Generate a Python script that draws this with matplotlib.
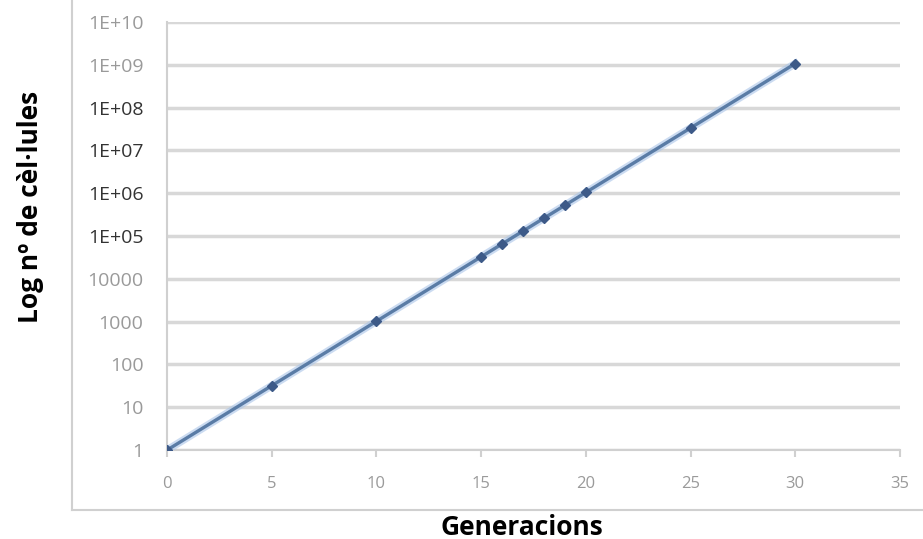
import matplotlib.pyplot as plt
from matplotlib.lines import Line2D
from matplotlib.ticker import FixedLocator, NullLocator

# generacions i nombre de cèl·lules
generacions = [0, 5, 10, 15, 16, 17, 18, 19, 20, 25, 30]
cellules = [1, 32, 1024, 32768, 65536, 131072, 262144, 524288,
            1048576, 33554432, 1073741824]

y_ticks = [1, 10, 100, 1000, 10000, 1e5, 1e6, 1e7, 1e8, 1e9, 1e10]
y_labels = ["1", "10", "100", "1000", "10000", "1E+05", "1E+06",
            "1E+07", "1E+08", "1E+09", "1E+10"]
x_ticks = [0, 5, 10, 15, 20, 25, 30, 35]

plt.rcParams['font.family'] = ['Open Sans', 'DejaVu Sans']

fig = plt.figure(figsize=(9.23, 5.39), dpi=100)
ax = fig.add_axes([0.181, 0.165, 0.794, 0.794])

ax.set_yscale('log')
ax.set_xlim(0, 35)
ax.set_ylim(1, 1e10)

ax.plot(generacions, cellules, color="#a9c4e8", lw=5.5, alpha=0.6, zorder=3)
ax.plot(generacions, cellules, color="#5a7ca6", lw=2.4, marker="D",
        ms=5, mfc="#3d5a88", mec="#3d5a88", zorder=4)

ax.yaxis.set_major_locator(FixedLocator(y_ticks))
ax.yaxis.set_minor_locator(NullLocator())
ax.set_yticks(y_ticks)
ax.set_yticklabels(y_labels)
ax.set_xticks(x_ticks)

ax.grid(axis='y', color="#d8d8d8", lw=2.5)
ax.set_axisbelow(True)

for s in ['top', 'right']:
    ax.spines[s].set_visible(False)
ax.spines['left'].set_color("#d0d0d0")
ax.spines['bottom'].set_color("#d0d0d0")
ax.spines['left'].set_linewidth(1.5)
ax.spines['bottom'].set_linewidth(1.5)

ax.tick_params(axis='y', length=0, pad=17, labelsize=14)
ax.tick_params(axis='x', length=5, color="#d0d0d0", width=1.5, pad=14,
               labelsize=12, labelcolor="#9a9a9a")

dark = {"1E+05", "1E+06", "1E+07", "1E+08"}
for lab in ax.get_yticklabels():
    lab.set_color("#333333" if lab.get_text() in dark else "#9a9a9a")

ax.set_xlabel("Generacions", fontsize=19, fontweight="bold")
ax.xaxis.set_label_coords(0.484, -0.18)
ax.xaxis.label.set_va("center")
ax.set_ylabel("Log nº de cèl·lules", fontsize=19, fontweight="bold")
ax.yaxis.set_label_coords(-0.187, 0.568)
ax.yaxis.label.set_va("center")

# marc del gràfic
fig.add_artist(Line2D([72 / 923, 72 / 923], [1, 1 - 510 / 539],
                      color="#d0d0d0", lw=1.5))
fig.add_artist(Line2D([72 / 923, 1], [1 - 510 / 539, 1 - 510 / 539],
                      color="#d0d0d0", lw=1.5))

plt.savefig("out.png", dpi=100)
